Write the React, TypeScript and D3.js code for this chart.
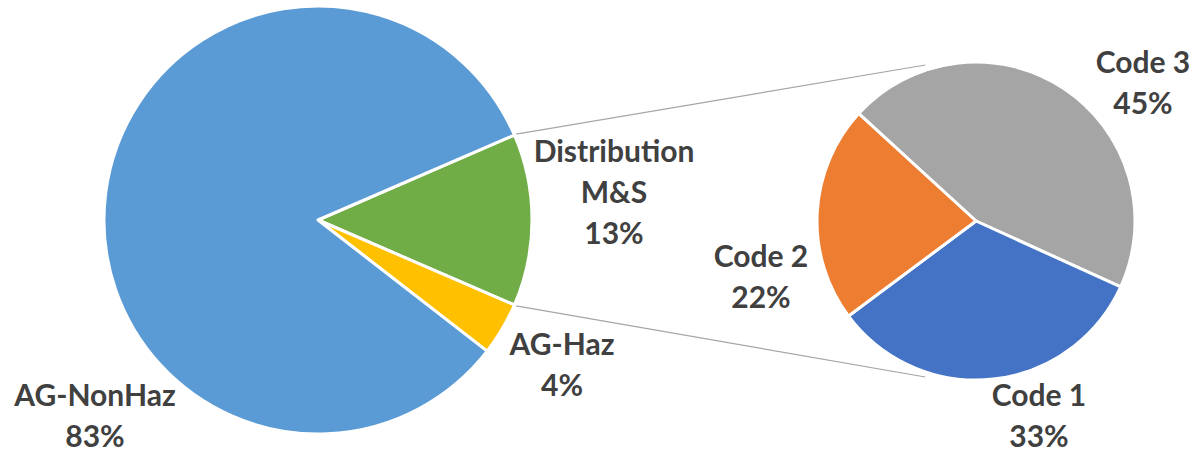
import * as d3 from 'd3';

const W = 1199;
const H = 454;

// main pie (order = drawing order clockwise from the split slice)
const mainNames = ['Distribution M&S', 'AG-Haz', 'AG-NonHaz'];
const mainValues = [13, 4, 83];
const mainColors = ['#70AD47', '#FFC000', '#5B9BD5'];

// breakdown of "Distribution M&S"
const subNames = ['Code 3', 'Code 1', 'Code 2'];
const subValues = [45, 33, 22];
const subColors = ['#A5A5A5', '#4472C4', '#ED7D31'];

// label layout (centre x, first baseline)
const LABEL_POS: Record<string, [number, number]> = {
  'Distribution M&S': [614, 162],
  'AG-Haz': [562, 355],
  'AG-NonHaz': [95, 406],
  'Code 3': [1143, 73],
  'Code 2': [761, 267],
  'Code 1': [1039, 406],
};

const LINE_H = 41;
const FONT = 'Lato, "Open Sans", sans-serif';
const TEXT_COLOR = '#404040';

const deg = (a: number) => (a * Math.PI) / 180;

export default function App() {
  const mainC = { x: 318, y: 220, r: 214 };
  const subC = { x: 976, y: 221, r: 159 };

  const splitShare = mainValues[0] / d3.sum(mainValues);
  const mainStart = Math.PI / 2 - splitShare * Math.PI;

  const mainArcs = d3.pie<number>().sort(null)
    .startAngle(mainStart).endAngle(mainStart + 2 * Math.PI)(mainValues);
  const subArcs = d3.pie<number>().sort(null)
    .startAngle(deg(-47.5)).endAngle(deg(-47.5) + 2 * Math.PI)(subValues);

  const mainArc = d3.arc<d3.PieArcDatum<number>>().innerRadius(0).outerRadius(mainC.r);
  const subArc = d3.arc<d3.PieArcDatum<number>>().innerRadius(0).outerRadius(subC.r);

  const polar = (c: { x: number; y: number }, r: number, a: number): [number, number] =>
    [c.x + r * Math.sin(a), c.y - r * Math.cos(a)];

  // connector lines: split slice edges -> second pie rim
  const split = mainArcs[0];
  const [ux1, uy1] = polar(mainC, mainC.r + 2, split.startAngle);
  const [lx1, ly1] = polar(mainC, mainC.r + 2, split.endAngle);
  const [ux2, uy2] = polar(subC, subC.r + 5, deg(-18));
  const [lx2, ly2] = polar(subC, subC.r + 5, deg(198));

  const fmt = (v: number, tot: number) => `${Math.round((v / tot) * 100)}%`;
  const mainTot = d3.sum(mainValues);
  const subTot = d3.sum(subValues);

  const label = (name: string, pct: string) => {
    const [x, y] = LABEL_POS[name];
    const lines = name === 'Distribution M&S' ? ['Distribution', 'M&S', pct] : [name, pct];
    return (
      <text key={name} x={x} y={y} textAnchor="middle" fontFamily={FONT} fontWeight={700}
        fontSize={30} fill={TEXT_COLOR}>
        {lines.map((l, i) => (
          <tspan key={i} x={x} y={y + i * LINE_H}>{l}</tspan>
        ))}
      </text>
    );
  };

  return (
    <svg width={W} height={H} style={{ position: 'absolute', left: 0, top: 0, background: '#fff' }}>
      <line x1={ux1} y1={uy1} x2={ux2} y2={uy2} stroke="#A6A6A6" strokeWidth={1.2} />
      <line x1={lx1} y1={ly1} x2={lx2} y2={ly2} stroke="#A6A6A6" strokeWidth={1.2} />
      <g transform={`translate(${mainC.x},${mainC.y})`}>
        {mainArcs.map((a, i) => (
          <path key={i} d={mainArc(a) || ''} fill={mainColors[i]} stroke="#fff" strokeWidth={3}
            strokeLinejoin="round" />
        ))}
      </g>
      <g transform={`translate(${subC.x},${subC.y})`}>
        {subArcs.map((a, i) => (
          <path key={i} d={subArc(a) || ''} fill={subColors[i]} stroke="#fff" strokeWidth={3}
            strokeLinejoin="round" />
        ))}
      </g>
      {mainNames.map((n, i) => label(n, fmt(mainValues[i], mainTot)))}
      {subNames.map((n, i) => label(n, fmt(subValues[i], subTot)))}
    </svg>
  );
}
